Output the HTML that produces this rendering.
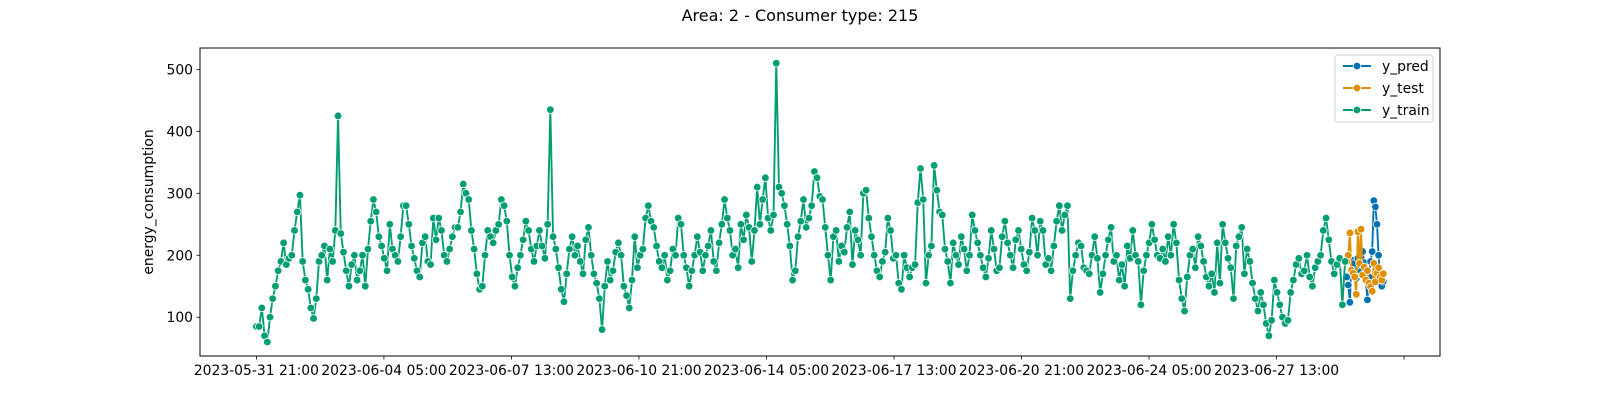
<!DOCTYPE html>
<html><head><meta charset="utf-8"><style>
html,body{margin:0;padding:0;background:#fff;}
svg{display:block;font-family:"DejaVu Sans","Liberation Sans",sans-serif;}
</style></head><body>
<svg id="chart" width="1600" height="400" viewBox="0 0 1600 400" xmlns="http://www.w3.org/2000/svg">
<text x="800" y="21" font-size="16" text-anchor="middle" fill="#000">Area: 2 - Consumer type: 215</text>
<text transform="translate(153,202) rotate(-90)" font-size="13.9" text-anchor="middle" fill="#000">energy_consumption</text>
<g id="grid"></g>
<g id="series"></g>
<rect x="200" y="48" width="1240" height="308" fill="none" stroke="#000" stroke-width="1"/>
<g id="axes"></g>
<g id="legend"></g>
</svg>
<script>
const trainValues=[85,85,115,70,60,100,130,150,175,190,220,185,195,200,240,270,297,190,160,145,115,98,130,190,200,215,160,210,190,240,425,235,205,175,150,185,200,160,175,200,150,210,255,290,270,230,215,195,175,250,210,200,190,230,280,280,250,215,195,175,165,220,230,190,185,260,225,260,240,200,190,210,230,245,245,270,315,300,290,240,210,170,145,150,200,240,230,220,240,250,290,280,255,200,165,150,180,200,225,255,240,210,190,215,240,215,195,250,435,230,210,180,145,125,170,210,230,200,215,190,170,225,245,200,170,155,130,80,150,190,160,175,205,220,200,150,135,115,160,230,180,200,210,260,280,255,245,215,190,180,200,160,175,210,200,260,250,200,180,150,175,200,230,205,175,200,215,240,190,175,220,250,290,260,240,200,210,180,250,225,265,245,190,240,310,250,290,325,260,240,265,510,310,300,280,250,215,160,175,230,255,290,245,260,280,335,325,295,290,245,200,160,230,240,190,215,205,245,270,185,240,225,200,300,305,260,230,200,175,165,190,205,260,240,195,200,155,145,200,180,165,180,185,285,340,290,155,200,215,345,305,270,265,210,190,155,220,200,185,230,210,175,200,265,240,220,200,180,165,195,240,210,175,180,230,255,220,200,180,225,240,210,185,175,205,260,240,200,255,240,185,195,175,215,255,280,240,265,280,130,175,200,220,215,180,175,170,200,230,195,140,170,200,225,245,190,200,160,185,150,215,195,240,200,190,120,175,200,220,250,225,200,195,210,190,230,200,250,220,160,130,110,165,200,210,180,230,215,190,165,150,170,140,220,155,250,220,195,180,130,215,230,245,170,210,190,155,130,110,140,120,90,70,95,160,140,120,100,90,95,140,160,185,195,170,175,200,165,150,180,190,200,240,260,225,190,170,185,195,120,190];
const testValues=[190,200,236,176,171,165,137,238,187,242,168,181,160,175,155,149,142,187,157,171,180,165,160,170];
const predValues=[165,152,124,192,171,187,163,195,170,174,206,188,160,128,165,190,206,288,278,250,200,163,150,158];
const yTicks=[100,200,300,400,500];
const xTickLabels=["2023-05-31 21:00","2023-06-04 05:00","2023-06-07 13:00","2023-06-10 21:00","2023-06-14 05:00","2023-06-17 13:00","2023-06-20 21:00","2023-06-24 05:00","2023-06-27 13:00",""];
const trainEndHour=683, testStartHour=684, tickStepHours=80;

const NS="http://www.w3.org/2000/svg";
const x=h=>256.4+h*1.594;
const y=v=>356-(v-37.4)*0.6196;
function mk(tag,attrs,parent){const e=document.createElementNS(NS,tag);for(const k in attrs)e.setAttribute(k,attrs[k]);parent.appendChild(e);return e;}
const axes=document.getElementById('axes'), series=document.getElementById('series'), legend=document.getElementById('legend');

yTicks.forEach(v=>{
  const t=mk('line',{x1:196.5,x2:200,y1:y(v),y2:y(v),stroke:'#000','stroke-width':0.8},axes);
  
  
  const l=mk('text',{x:193,y:y(v)+5,'font-size':13.9,'text-anchor':'end'},axes);
  
  
  l.textContent=v;
});
xTickLabels.forEach((s,i)=>{
  const px=x(i*tickStepHours);
  const t=mk('line',{x1:px,x2:px,y1:356,y2:359.5,stroke:'#000','stroke-width':0.8},axes);
  
  
  if(s){
    const l=mk('text',{x:px,y:375,'font-size':13.9,'text-anchor':'middle'},axes);
    
    
    l.textContent=s;
  }
});

function drawSeries(vals,hourOf,color,name){
  const g=mk('g',{},series);
  
  
  const pts=vals.map((v,i)=>x(hourOf(i)).toFixed(2)+','+y(v).toFixed(2)).join(' ');
  const pl=mk('polyline',{points:pts,fill:'none',stroke:color,'stroke-width':1.9,'stroke-linejoin':'round'},g);
  
  
  vals.forEach((v,i)=>{
    const c=mk('circle',{cx:x(hourOf(i)),cy:y(v),r:3.8,fill:color,stroke:'#fff','stroke-width':0.75},g);
    
    
  });
}
drawSeries(predValues,i=>testStartHour+i,'#0173b2','y-pred');
drawSeries(testValues,i=>testStartHour+i,'#de8f05','y-test');
drawSeries(trainValues,i=>i*trainEndHour/(trainValues.length-1),'#029e73','y-train');

const box=mk('rect',{x:1335,y:55,width:98,height:67,rx:3,fill:'#fff','fill-opacity':0.8,stroke:'#d0d0d0','stroke-width':1},legend);


[['y_pred','#0173b2'],['y_test','#de8f05'],['y_train','#029e73']].forEach((e,i)=>{
  const ly=66+i*22;
  const g=mk('g',{},legend);
  
  
  mk('line',{x1:1343,x2:1371,y1:ly,y2:ly,stroke:e[1],'stroke-width':1.9},g);
  mk('circle',{cx:1357,cy:ly,r:3.8,fill:e[1],stroke:'#fff','stroke-width':0.75},g);
  const t=mk('text',{x:1382,y:ly+5,'font-size':13.9},g);
  t.textContent=e[0];
});
</script>
</body></html>
